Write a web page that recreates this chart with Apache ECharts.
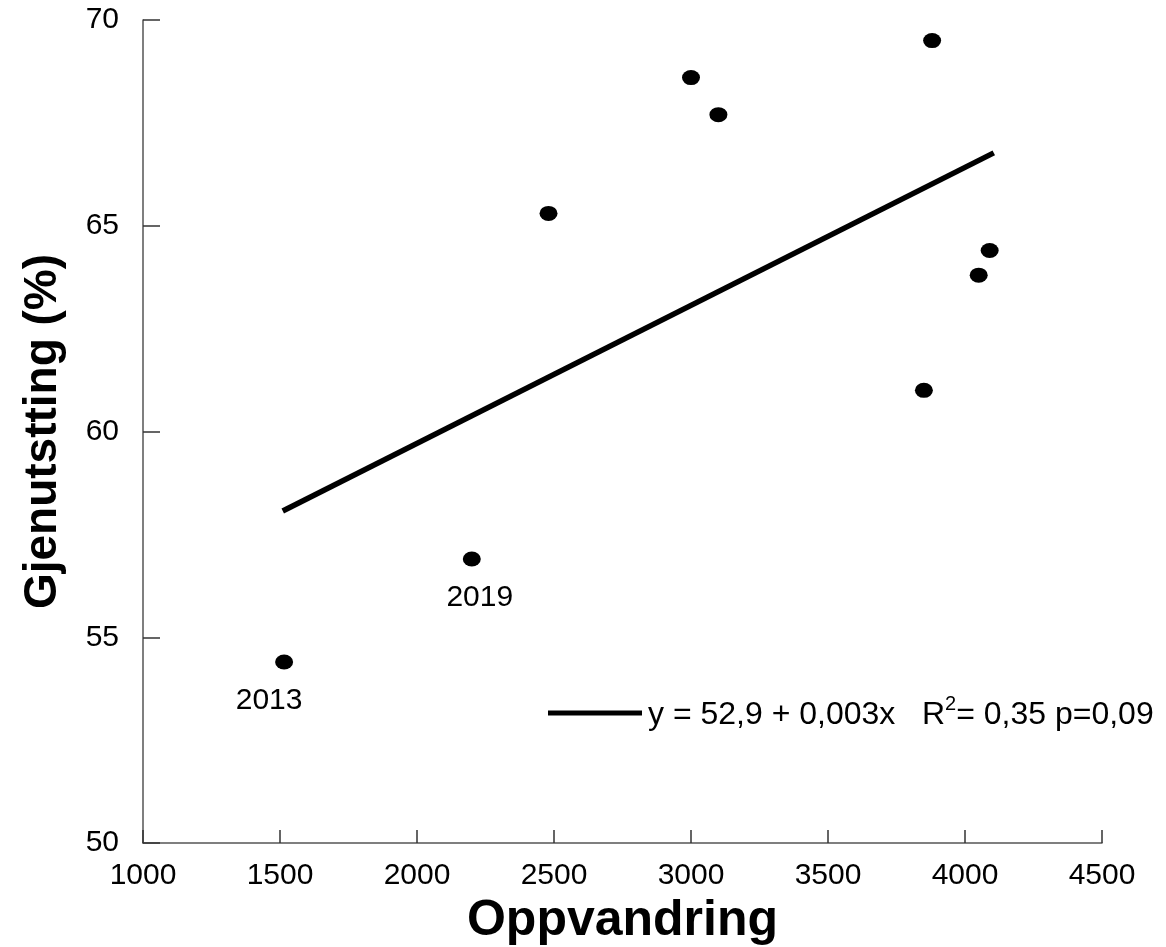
<!DOCTYPE html>
<html>
<head>
<meta charset="utf-8">
<title>Gjenutsetting vs oppvandring</title>
<script src="https://cdn.jsdelivr.net/npm/echarts@6/dist/echarts.min.js"></script>
<style>
  html, body { margin: 0; padding: 0; background: #fff; }
  #chart { width: 1166px; height: 947px; }
</style>
</head>
<body>
<div id="chart"></div>
<script>
// Data
const oppvandring = [1515, 2200, 2480, 3000, 3100, 3880, 4090, 4050, 3850];
const gjenutsetting = [54.4, 56.9, 65.3, 68.6, 67.7, 69.5, 64.4, 63.8, 61.0];
const yearLabels = ['2013', '2019', '', '', '', '', '', '', ''];

// Regression line end points
const trendX = [1510, 4105];
const trendY = [58.07, 66.77];

const xTicks = [1000, 1500, 2000, 2500, 3000, 3500, 4000, 4500];
const yTicks = [50, 55, 60, 65, 70];

const legendText = 'y = 52,9 + 0,003x   R{sup|2}= 0,35 p=0,09';

const FONT = '"Liberation Sans", Arial, sans-serif';

// small nudges so the year labels sit where they do in the figure
const labelShift = { '2013': [-15, 0], '2019': [8, 0] };

const chart = echarts.init(document.getElementById('chart'));

const points = oppvandring.map((x, i) => {
    const name = yearLabels[i];
    return {
        value: [x, gjenutsetting[i]],
        name: name,
        label: {
            show: name !== '',
            position: 'bottom',
            distance: 16,
            offset: labelShift[name] || [0, 0],
            formatter: name,
            color: '#000',
            fontSize: 30,
            fontFamily: FONT
        }
    };
});

const axisCommon = {
    axisLine: { show: true, lineStyle: { color: '#555', width: 1.5 } },
    axisTick: { show: true, inside: true, lineStyle: { color: '#333', width: 1.5 } },
    splitLine: { show: false },
    axisLabel: { color: '#000', fontSize: 30, fontFamily: FONT, formatter: v => String(v) }
};

chart.setOption({
    backgroundColor: '#fff',
    animation: false,
    grid: { left: 143, top: 20, right: 64, bottom: 104, outerBoundsMode: 'none', containLabel: false },
    xAxis: Object.assign({}, axisCommon, {
        type: 'value',
        min: xTicks[0],
        max: xTicks[xTicks.length - 1],
        interval: 500,
        axisTick: Object.assign({}, axisCommon.axisTick, { length: 13 }),
        axisLabel: Object.assign({}, axisCommon.axisLabel, { margin: 18 }),
        name: 'Oppvandring',
        nameLocation: 'middle',
        nameGap: 44,
        nameTextStyle: { color: '#000', fontSize: 50, fontWeight: 'bold', fontFamily: FONT }
    }),
    yAxis: Object.assign({}, axisCommon, {
        type: 'value',
        min: yTicks[0],
        max: yTicks[yTicks.length - 1],
        interval: 5,
        axisTick: Object.assign({}, axisCommon.axisTick, { length: 17 }),
        axisLabel: Object.assign({}, axisCommon.axisLabel, { margin: 24, padding: [6, 0, 0, 0] }),
        name: 'Gjenutstting (%)',
        nameLocation: 'middle',
        nameGap: 77,
        nameRotate: 90,
        nameTextStyle: { color: '#000', fontSize: 46, fontWeight: 'bold', fontFamily: FONT }
    }),
    series: [
        {
            name: 'Regresjon',
            type: 'line',
            data: trendX.map((x, i) => [x, trendY[i]]),
            showSymbol: false,
            symbol: 'none',
            lineStyle: { color: '#000', width: 5.5, cap: 'butt' },
            z: 2
        },
        {
            name: 'Gjenutsetting',
            type: 'scatter',
            data: points,
            symbol: 'circle',
            symbolSize: [18, 15],
            itemStyle: { color: '#000', opacity: 1 },
            z: 3
        }
    ],
    graphic: [
        {
            type: 'line',
            shape: { x1: 548, y1: 713, x2: 642, y2: 713 },
            style: { stroke: '#000', lineWidth: 5 }
        },
        {
            type: 'text',
            left: 648,
            top: 694,
            style: {
                text: legendText,
                fill: '#000',
                fontSize: 32,
                fontFamily: FONT,
                rich: {
                    sup: { fontSize: 20, verticalAlign: 'top', padding: [0, 0, 22, 0], fontFamily: FONT, fill: '#000' }
                }
            }
        }
    ]
});
</script>
</body>
</html>
